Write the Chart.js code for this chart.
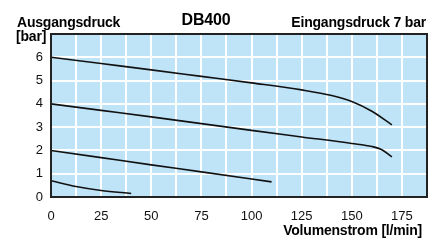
<!DOCTYPE html>
<html>
<head>
<meta charset="utf-8">
<script src="https://cdn.jsdelivr.net/npm/chart.js@4"></script>
<style>
  html, body { margin: 0; padding: 0; background: #fff; }
  #wrap { width: 441px; height: 240px; }
</style>
</head>
<body>
<div id="wrap"><canvas id="chart" width="441" height="240"></canvas></div>
<script>
// Kennlinien DB400, Eingangsdruck 7 bar
const curve6x = [0, 25, 50, 75, 100, 125, 140, 150, 160, 170];
const curve6y = [6, 5.73, 5.46, 5.18, 4.9, 4.6, 4.36, 4.1, 3.68, 3.1];
const curve4x = [0, 25, 50, 75, 100, 125, 150, 160, 165, 170];
const curve4y = [4, 3.72, 3.44, 3.15, 2.86, 2.58, 2.3, 2.17, 2.03, 1.72];
const curve2x = [0, 25, 50, 75, 110];
const curve2y = [2, 1.69, 1.38, 1.08, 0.65];
const curve0x = [0, 12.5, 25, 40];
const curve0y = [0.7, 0.45, 0.28, 0.15];

const xTicks = [0, 25, 50, 75, 100, 125, 150, 175];
const yTicks = [0, 1, 2, 3, 4, 5, 6];

const textFont = '"Liberation Sans", Arial, sans-serif';

function toPoints(xs, ys) {
  return xs.map((x, i) => ({ x: x, y: ys[i] }));
}

function curve(xs, ys) {
  return {
    data: toPoints(xs, ys),
    borderColor: '#111',
    borderWidth: 1.6,
    pointRadius: 0,
    fill: false,
    cubicInterpolationMode: 'monotone'
  };
}

// Hintergrund, Rahmen und Beschriftungen
const decor = {
  id: 'decor',
  beforeDraw(chart) {
    const { ctx, chartArea: a } = chart;
    ctx.save();
    ctx.fillStyle = '#bfe4f8';
    ctx.fillRect(a.left, a.top, a.right - a.left, a.bottom - a.top);
    ctx.restore();
  },
  afterDraw(chart) {
    const { ctx, chartArea: a } = chart;
    ctx.save();
    ctx.strokeStyle = '#222';
    ctx.lineWidth = 2;
    ctx.strokeRect(a.left, a.top, a.right - a.left, a.bottom - a.top);

    ctx.fillStyle = '#000';
    ctx.textBaseline = 'alphabetic';
    ctx.letterSpacing = '-0.2px';
    ctx.font = 'bold 14px ' + textFont;
    ctx.textAlign = 'left';
    ctx.fillText('Ausgangsdruck', 17, 27);
    ctx.fillText('[bar]', 16, 41);
    ctx.textAlign = 'right';
    ctx.fillText('Eingangsdruck 7 bar', 426, 27);
    ctx.fillText('Volumenstrom [l/min]', 422, 235);
    ctx.font = 'bold 16px ' + textFont;
    ctx.textAlign = 'center';
    ctx.fillText('DB400', 206, 25);
    ctx.restore();
  }
};

new Chart(document.getElementById('chart'), {
  type: 'line',
  data: {
    datasets: [
      curve(curve6x, curve6y),
      curve(curve4x, curve4y),
      curve(curve2x, curve2y),
      curve(curve0x, curve0y)
    ]
  },
  options: {
    responsive: false,
    animation: false,
    layout: { padding: { top: 34, right: 14, left: 0, bottom: 0 } },
    plugins: { legend: { display: false }, tooltip: { enabled: false } },
    scales: {
      x: {
        type: 'linear',
        min: 0,
        max: 187.5,
        afterFit(scale) { scale.height = 43; },
        grid: { color: '#fff', lineWidth: 2, drawTicks: false },
        border: { display: false },
        ticks: {
          stepSize: 12.5,
          autoSkip: false,
          maxRotation: 0,
          padding: 12,
          color: '#111',
          font: { family: textFont, size: 13 },
          callback: v => xTicks.includes(v) ? String(v) : ''
        }
      },
      y: {
        min: 0,
        max: 7,
        afterFit(scale) { scale.width = 51; },
        grid: { color: '#fff', lineWidth: 2, drawTicks: false },
        border: { display: false },
        ticks: {
          stepSize: 1,
          padding: 8,
          color: '#111',
          font: { family: textFont, size: 13 },
          callback: v => yTicks.includes(v) ? String(v) : ''
        }
      }
    }
  },
  plugins: [decor]
});
</script>
</body>
</html>
